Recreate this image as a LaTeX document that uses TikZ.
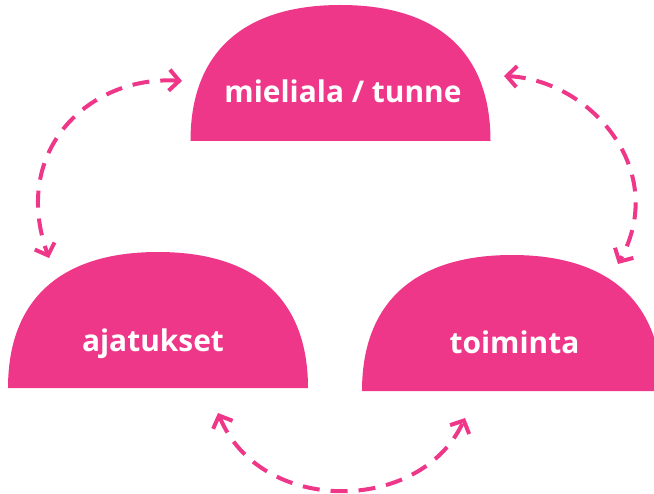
\documentclass[tikz,border=0pt]{standalone}
\usepackage{fontspec}
\newfontfamily\labelfont{Open Sans}
\usetikzlibrary{arrows.meta}
\definecolor{rose}{RGB}{239,55,137}
\tikzset{
  domeshape/.pic={
    \fill[rose] (-150,0) .. controls (-150,-88.4) and (-97.5,-136) .. (0,-136)
      .. controls (97.5,-136) and (150,-88.4) .. (150,0) -- cycle;
  },
  domelabel/.style={anchor=base, text=white, font=\labelfont\bfseries\fontsize{30}{36}\selectfont},
  link/.style={rose, line width=4bp, dash pattern=on 17bp off 11bp,
    {Straight Barb[length=10bp,width=21bp]}-{Straight Barb[length=10bp,width=21bp]}},
}
\begin{document}
\begin{tikzpicture}[x=1bp,y=-1bp]
  \useasboundingbox (0,0) rectangle (654,494);
  \clip (0,0) rectangle (654,494);

  % three half-domes
  \pic at (340.5,141) {domeshape};
  \pic at (158,388) {domeshape};
  \pic at (512,391) {domeshape};

  \node[domelabel] (mood) at (343,103) {mieliala / tunne};
  \node[domelabel] (thoughts) at (153,351) {ajatukset};
  \node[domelabel] (action) at (514.5,353) {toiminta};

  % ends of the two-way arrows
  \coordinate (a1) at (182,81);
  \coordinate (a2) at (49,258);
  \coordinate (b1) at (504,76);
  \coordinate (b2) at (618,264);
  \coordinate (c1) at (218,413);
  \coordinate (c2) at (465,418);

  \draw[link] (a1) .. controls (90,75) and (10,150) .. (a2);
  \draw[link] (b1) .. controls (590,80) and (670,170) .. (b2);
  \draw[link] (c1) .. controls (260,515) and (420,515) .. (c2);
\end{tikzpicture}
\end{document}
